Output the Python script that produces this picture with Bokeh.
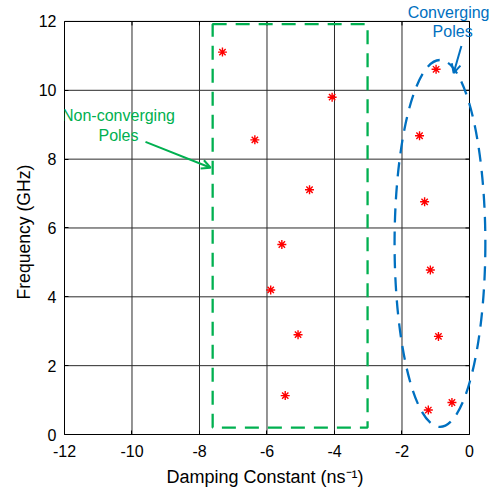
from bokeh.plotting import figure
from bokeh.models import Range1d, FixedTicker, Label, Arrow, OpenHead, Title
from bokeh.embed import file_html
from bokeh.resources import INLINE

# ---- data ----
nonconv_damping = [-7.32, -4.07, -6.36, -4.74, -5.56, -5.89, -5.08, -5.46]
nonconv_freq = [11.11, 9.80, 8.56, 7.11, 5.52, 4.20, 2.90, 1.13]
conv_damping = [-0.99, -1.48, -1.33, -1.16, -0.92, -0.52, -1.22]
conv_freq = [10.61, 8.68, 6.76, 4.78, 2.85, 0.93, 0.71]
x_ticks = [-12, -10, -8, -6, -4, -2, 0]
x_tick_labels = ["-12", "-10", "-8", "-6", "-4", "-2", "0"]
y_ticks = [0, 2, 4, 6, 8, 10, 12]
y_tick_labels = ["0", "2", "4", "6", "8", "10", "12"]
x_title = "Damping Constant (ns\u207b\u00b9)"
y_title = "Frequency (GHz)"

# annotation geometry (data units)
box_left, box_right, box_bottom, box_top = -7.61, -3.02, 0.20, 11.92
ell_x, ell_y, ell_w, ell_h = -0.875, 5.55, 2.69, 10.66

GREEN = "#00B050"
BLUE = "#0070C0"
FONT = "Liberation Sans"

W, H = 491, 491
LEFT, RIGHT, TOP, BOTTOM = 64, 0, 0, 56
x0, x1 = -12, 0.652
y0, y1 = 0, 12.609

p = figure(width=W, height=H, output_backend="svg", toolbar_location=None,
           x_range=Range1d(x0, x1), y_range=Range1d(y0, y1),
           min_border_left=LEFT, min_border_right=RIGHT,
           min_border_top=TOP, min_border_bottom=BOTTOM)
p.outline_line_color = None
p.xgrid.grid_line_color = None
p.ygrid.grid_line_color = None
p.background_fill_color = "white"
p.border_fill_color = "white"

px_x = (W - LEFT - RIGHT) / (x1 - x0)
px_y = (H - TOP - BOTTOM) / (y1 - y0)

xmin, xmax = x_ticks[0], x_ticks[-1]
ymin, ymax = y_ticks[0], y_ticks[-1]

# grid lines
p.segment(x0=x_ticks, y0=[ymin] * len(x_ticks), x1=x_ticks, y1=[ymax] * len(x_ticks),
          line_color="#2a2a2a", line_width=1)
p.segment(x0=[xmin] * len(y_ticks), y0=y_ticks, x1=[xmax] * len(y_ticks), y1=y_ticks,
          line_color="#2a2a2a", line_width=1)
# box top/right
p.segment(x0=[xmin, xmax], y0=[ymax, ymin], x1=[xmax, xmax], y1=[ymax, ymax],
          line_color="black", line_width=1)
# inward ticks on top/right
tl = 4
p.segment(x0=x_ticks, y0=[ymax] * len(x_ticks), x1=x_ticks,
          y1=[ymax - tl / px_y] * len(x_ticks), line_color="black", line_width=1)
p.segment(x0=[xmax] * len(y_ticks), y0=y_ticks, x1=[xmax - tl / px_x] * len(y_ticks),
          y1=y_ticks, line_color="black", line_width=1)

# axes
for ax, ticks, labels, bnds in ((p.xaxis, x_ticks, x_tick_labels, (xmin, xmax)),
                                (p.yaxis, y_ticks, y_tick_labels, (ymin, ymax))):
    ax.ticker = FixedTicker(ticks=ticks)
    ax.major_label_overrides = {t: l for t, l in zip(ticks, labels)}
    ax.bounds = bnds
    ax.major_tick_in = 4
    ax.major_tick_out = 0
    ax.minor_tick_line_color = None
    ax.axis_line_color = "black"
    ax.major_tick_line_color = "black"
    ax.major_label_text_font = FONT
    ax.major_label_text_font_size = "16px"
    ax.major_label_text_color = "black"
p.xaxis.major_label_standoff = 10
p.yaxis.major_label_standoff = 8

# axis titles as side titles, placed so they are centred on the bounded axes
p.add_layout(Title(text=x_title, align="left", offset=102,
                   text_font=FONT, text_font_size="18px", text_font_style="normal",
                   text_color="black", standoff=10), "below")
p.add_layout(Title(text=y_title, align="left", offset=135,
                   text_font=FONT, text_font_size="17.6px", text_font_style="normal",
                   text_color="black", standoff=4), "left")

# highlighted regions
p.quad(left=[box_left], right=[box_right], bottom=[box_bottom], top=[box_top],
       fill_color=None, line_color=GREEN, line_width=2.3, line_dash="14 9")
p.ellipse(x=[ell_x], y=[ell_y], width=[ell_w], height=[ell_h],
          fill_color=None, line_color=BLUE, line_width=2.3, line_dash="14 9")

# poles
p.scatter(nonconv_damping, nonconv_freq, marker="asterisk", size=9,
          line_color="red", line_width=1.4)
p.scatter(conv_damping, conv_freq, marker="asterisk", size=9,
          line_color="red", line_width=1.4)

# annotations
for txt, x, y, c in (("Non-converging", -10.4, 9.28, GREEN), ("Poles", -10.4, 8.70, GREEN),
                     ("Converging", -0.62, 12.27, BLUE), ("Poles", -0.50, 11.72, BLUE)):
    p.add_layout(Label(x=x, y=y, text=txt, text_align="center", text_baseline="middle",
                       text_font=FONT, text_font_size="16px", text_color=c))

p.add_layout(Arrow(end=OpenHead(size=9, line_color=GREEN, line_width=2),
                   x_start=-9.6, y_start=8.50, x_end=-7.67, y_end=7.75,
                   line_color=GREEN, line_width=2))
p.add_layout(Arrow(end=OpenHead(size=9, line_color=BLUE, line_width=2),
                   x_start=-0.24, y_start=11.29, x_end=-0.47, y_end=10.50,
                   line_color=BLUE, line_width=2))

open("out.html", "w").write(file_html(p, INLINE))
